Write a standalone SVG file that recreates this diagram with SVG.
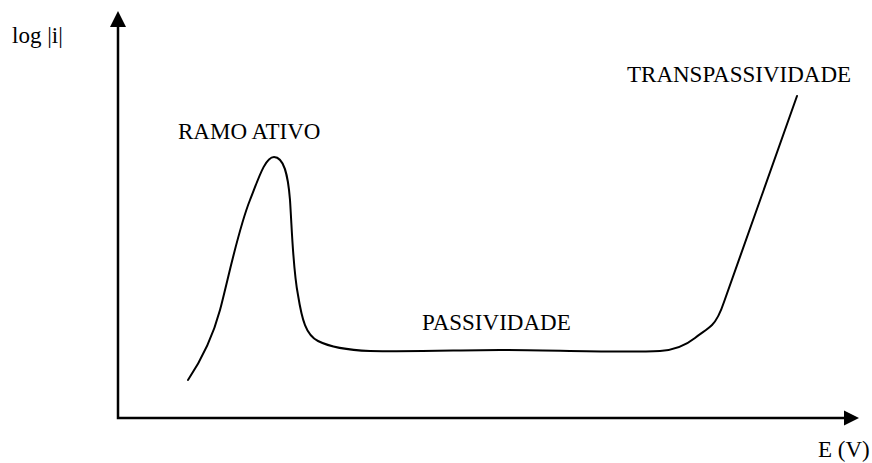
<svg xmlns="http://www.w3.org/2000/svg" width="872" height="463" viewBox="0 0 872 463">
<style>
text{font-family:"Liberation Serif","Times New Roman",serif;font-size:23px;fill:#000}
.ax{stroke:#000;stroke-width:2.5;fill:none}
.cv{stroke:#000;stroke-width:2;fill:none;stroke-linejoin:round;stroke-linecap:round}
</style>
<rect width="872" height="463" fill="#fff"/>
<g id="axes">
<path class="ax" d="M118,25 L118,418 L846,418"/>
<polygon points="118,11 110,27 126,27" fill="#000"/>
<polygon points="859,418 844,410.5 844,425.5" fill="#000"/>
</g>
<g id="curve">
<path class="cv" d="M188,380 C200,362 212,340 220,310 C228,280 238,230 250,200 C258,180 265,157 274,157 C284,157 288,175 290,200 C292,230 293,270 298,295 C302,320 306,335 318,341 C330,347 345,350 370,351 C420,352 460,350 500,350 C560,350 620,353 660,351 C675,350 685,346 695,338 C701,333 707,330 712,325 C716,321 720,314 724,302 L797,96"/>
</g>
<g id="labels">
<text x="12" y="43">log |i|</text>
<text x="178" y="139">RAMO ATIVO</text>
<text x="627" y="82">TRANSPASSIVIDADE</text>
<text x="422" y="330">PASSIVIDADE</text>
<text x="818" y="457">E (V)</text>
</g>
</svg>
